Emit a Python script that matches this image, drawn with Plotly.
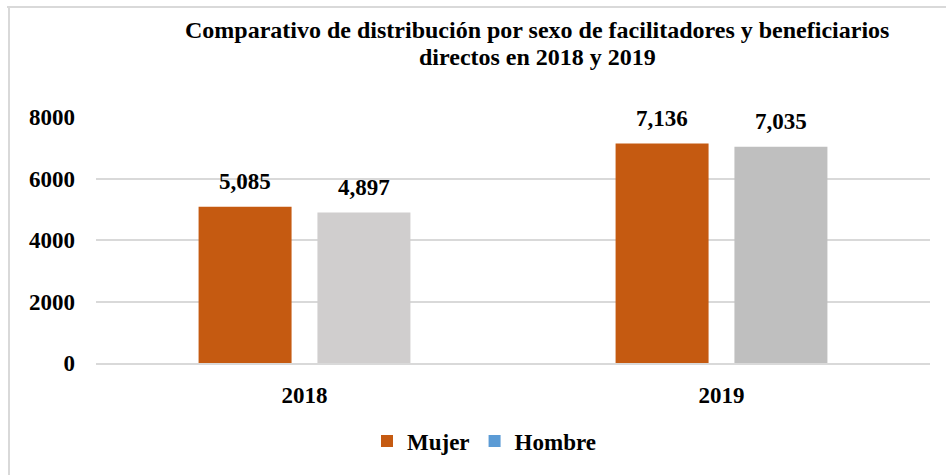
import plotly.graph_objects as go

years = ["2018", "2019"]
mujer = [5085, 7136]
hombre = [4897, 7035]
hombre_colors = ["#D0CECE", "#BFBFBF"]
y_ticks = [0, 2000, 4000, 6000, 8000]
title_lines = ["Comparativo de distribución por sexo de facilitadores y beneficiarios",
               "directos en 2018 y 2019"]

W, H = 946, 475
L, R, T, B = 96, 16, 117, 112
pw, ph = W - L - R, H - T - B
font = "Liberation Serif"
BW = 0.223
OFF_M, OFF_H = -0.254, 0.031

fig = go.Figure()
fig.add_trace(go.Bar(
    x=years, y=mujer, name="<b>Mujer</b>", marker=dict(color="#C55A11", line=dict(width=0)),
    width=BW, offset=OFF_M,
))
fig.add_trace(go.Bar(
    x=years, y=hombre, name="<b>Hombre</b>", showlegend=False,
    marker=dict(color=hombre_colors, line=dict(width=0)),
    width=BW, offset=OFF_H,
))
# legend entry for Hombre (blue swatch as in the reference)
fig.add_trace(go.Bar(
    x=[years[0]], y=[0], name="<b>Hombre</b>", marker=dict(color="#5B9BD5", line=dict(width=0)),
    width=0.001, offset=0, hoverinfo="skip",
))

# data labels
for series, off in ((mujer, OFF_M), (hombre, OFF_H)):
    for i, v in enumerate(series):
        fig.add_annotation(x=i + off + BW / 2, y=v, xref="x", yref="y",
                           text=f"<b>{v:,}</b>", showarrow=False,
                           yanchor="middle", yshift=25,
                           font=dict(family=font, size=23, color="black"))

# title (two lines)
for line, py in zip(title_lines, (30, 57)):
    fig.add_annotation(x=(537 - L) / pw, y=(H - B - py) / ph, xref="paper", yref="paper",
                       text=f"<b>{line}</b>", showarrow=False,
                       xanchor="center", yanchor="middle",
                       font=dict(family=font, size=24, color="black"))

fig.update_layout(
    width=W, height=H,
    margin=dict(l=L, r=R, t=T, b=B),
    barmode="overlay",
    paper_bgcolor="white", plot_bgcolor="white",
    font=dict(family=font, color="black"),
    legend=dict(
        orientation="h", x=(484 - L) / pw, xanchor="center",
        y=(H - B - 441) / ph, yanchor="middle",
        font=dict(family=font, size=23, color="black"),
        traceorder="normal",
    ),
    showlegend=True,
)
fig.update_xaxes(
    type="category", showgrid=False, zeroline=False,
    showline=True, linecolor="#D9D9D9", linewidth=2,
    tickvals=years, ticktext=[f"<b>{y}</b>" for y in years],
    tickfont=dict(family=font, size=23, color="black"),
    ticks="", ticklabelstandoff=10,
)
fig.update_yaxes(
    range=[0, 8000], tickvals=y_ticks, ticktext=[f"<b>{v}</b>" for v in y_ticks],
    showgrid=True, gridcolor="#D9D9D9", gridwidth=2,
    zeroline=False, showline=False,
    tickfont=dict(family=font, size=23, color="black"),
    ticklabelstandoff=20,
)

# chart-area border (top and left visible in the reference)
fig.add_shape(type="line", xref="paper", yref="paper",
              x0=(7 - L) / pw, x1=(W - L) / pw,
              y0=(H - B - 7) / ph, y1=(H - B - 7) / ph,
              line=dict(color="#D9D9D9", width=2))
fig.add_shape(type="line", xref="paper", yref="paper",
              x0=(9 - L) / pw, x1=(9 - L) / pw,
              y0=(H - B - 7) / ph, y1=(H - B - H) / ph,
              line=dict(color="#D9D9D9", width=2))

fig.write_html("out.html", config={"displayModeBar": False},
               post_script="document.body.style.margin='0';")
